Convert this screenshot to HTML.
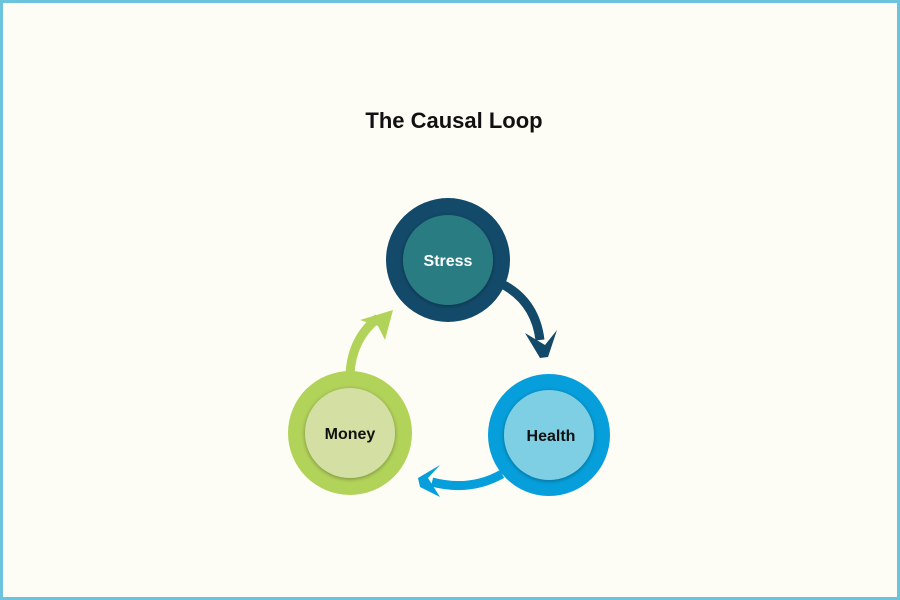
<!DOCTYPE html>
<html><head><style>
html,body{margin:0;padding:0}
body{width:900px;height:600px;background:#fdfdf5;position:relative;overflow:hidden;font-family:"Liberation Sans",sans-serif}
.frame{position:absolute;left:0;top:0;width:894px;height:594px;border:3px solid #6cc3de}
</style></head><body>
<div class="frame"></div>
<svg width="900" height="600" style="position:absolute;left:0;top:0">
<defs>
<filter id="sh" x="-30%" y="-30%" width="160%" height="160%"><feDropShadow dx="0" dy="1" stdDeviation="2" flood-color="#000" flood-opacity="0.35"/></filter>
</defs>
<text x="454" y="128" text-anchor="middle" font-size="22" font-weight="bold" fill="#111">The Causal Loop</text>
<!-- arrows -->
<g fill="none" stroke-width="9">
<path d="M500 283 Q535 300 540 340" stroke="#134a6a"/>
<path d="M502 474 Q470 492 432 482" stroke="#069fdb"/>
<path d="M350 374 Q352 338 378 318" stroke="#b2d35a"/>
</g>
<polygon points="525,333 545,345 557,330 548,357 540,358" fill="#134a6a"/>
<polygon points="440,465 428,478 440,497 420,487 418,478" fill="#069fdb"/>
<polygon points="360,320 393,310 385,340 378,326" fill="#b2d35a"/>
<!-- circles -->
<circle cx="448" cy="260" r="62" fill="#134a6a"/>
<circle cx="448" cy="260" r="45" fill="#2a7b83" filter="url(#sh)"/>
<circle cx="549" cy="435" r="61" fill="#069fdb"/>
<circle cx="549" cy="435" r="45" fill="#7ecfe3" filter="url(#sh)"/>
<circle cx="350" cy="433" r="62" fill="#b2d35a"/>
<circle cx="350" cy="433" r="45" fill="#d4dfa4" filter="url(#sh)"/>
<text x="448" y="262" text-anchor="middle" dominant-baseline="middle" font-size="16" font-weight="bold" fill="#fff">Stress</text>
<text x="551" y="437" text-anchor="middle" dominant-baseline="middle" font-size="16" font-weight="bold" fill="#111">Health</text>
<text x="350" y="435" text-anchor="middle" dominant-baseline="middle" font-size="16" font-weight="bold" fill="#111">Money</text>
</svg>
</body></html>
